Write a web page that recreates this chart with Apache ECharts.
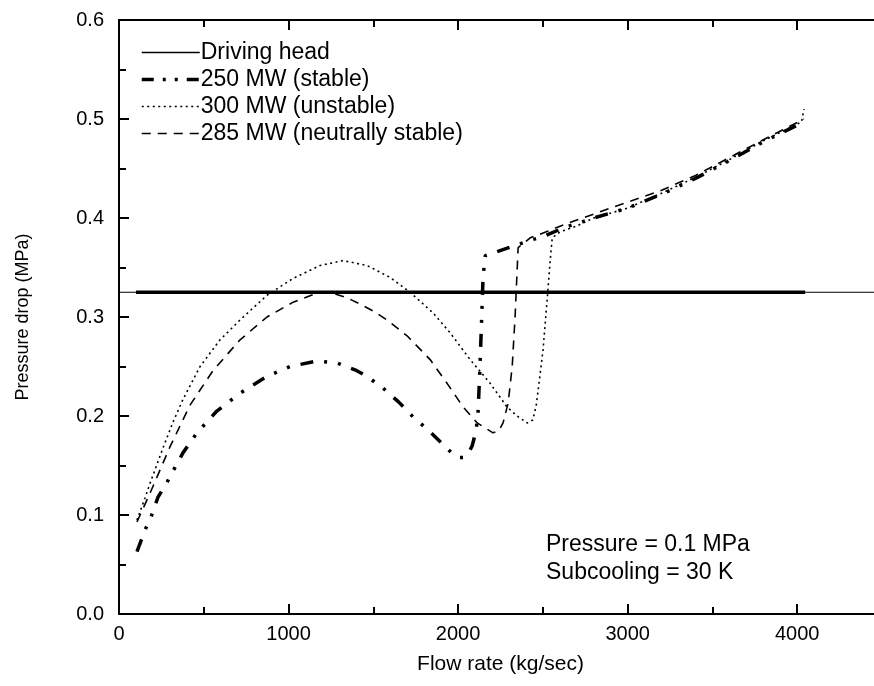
<!DOCTYPE html>
<html>
<head>
<meta charset="utf-8">
<script src="https://cdn.jsdelivr.net/npm/echarts@6/dist/echarts.min.js"></script>
<style>html,body{margin:0;padding:0;background:#fff}#c{width:874px;height:686px}</style>
</head>
<body>
<div id="c"></div>
<script>
// ---- data ----
const headLevel = 0.325;
const headThick = [100, 4047];
const headThin = [-25, 4600];

const x250 = [106, 159, 189, 230, 283, 324, 378, 460, 577, 714, 872, 1009, 1168, 1286, 1400, 1463, 1558, 1650, 1735, 1835, 1912, 1960, 2000, 2030, 2060, 2083, 2106, 2118, 2128, 2138, 2147, 2160, 2230, 2348, 2436, 2513, 2620, 2800, 3000, 3200, 3400, 3600, 3800, 4040];
const y250 = [0.063, 0.087, 0.098, 0.118, 0.133, 0.146, 0.163, 0.183, 0.205, 0.223, 0.240, 0.250, 0.2556, 0.2535, 0.246, 0.240, 0.228, 0.214, 0.199, 0.184, 0.171, 0.163, 0.158, 0.158, 0.162, 0.170, 0.185, 0.205, 0.246, 0.294, 0.340, 0.362, 0.366, 0.373, 0.378, 0.382, 0.390, 0.400, 0.410, 0.424, 0.440, 0.458, 0.477, 0.497];

const x300 = [106, 153, 183, 260, 319, 378, 478, 596, 714, 873, 1027, 1186, 1322, 1463, 1599, 1717, 1853, 1953, 2071, 2189, 2289, 2348, 2407, 2440, 2460, 2475, 2501, 2525, 2543, 2555, 2602, 2700, 2800, 3000, 3200, 3400, 3600, 3800, 4025, 4040];
const y300 = [0.095, 0.117, 0.132, 0.168, 0.194, 0.217, 0.250, 0.277, 0.297, 0.322, 0.339, 0.352, 0.357, 0.352, 0.340, 0.325, 0.304, 0.284, 0.257, 0.233, 0.209, 0.200, 0.193, 0.196, 0.210, 0.230, 0.267, 0.317, 0.357, 0.380, 0.386, 0.392, 0.400, 0.410, 0.425, 0.441, 0.459, 0.478, 0.497, 0.510];

const x285 = [106, 183, 301, 419, 555, 714, 873, 1027, 1168, 1263, 1350, 1422, 1500, 1581, 1699, 1835, 1935, 2030, 2112, 2206, 2240, 2265, 2295, 2319, 2336, 2354, 2425, 2520, 2620, 2800, 3000, 3200, 3400, 3600, 3800, 4040];
const y285 = [0.093, 0.122, 0.169, 0.211, 0.246, 0.277, 0.300, 0.315, 0.324, 0.324, 0.319, 0.313, 0.306, 0.297, 0.281, 0.257, 0.233, 0.209, 0.193, 0.183, 0.185, 0.193, 0.213, 0.250, 0.300, 0.370, 0.380, 0.386, 0.393, 0.404, 0.416, 0.428, 0.443, 0.461, 0.479, 0.500];

const xTicks = [0, 1000, 2000, 3000, 4000];
const yTicks = [0.0, 0.1, 0.2, 0.3, 0.4, 0.5, 0.6];
const seriesNames = ['Driving head', '250 MW (stable)', '300 MW (unstable)', '285 MW (neutrally stable)'];
const noteLines = ['Pressure = 0.1 MPa', 'Subcooling = 30 K'];
const xName = 'Flow rate (kg/sec)';
const yName = 'Pressure drop (MPa)';

const zip = (xs, ys) => xs.map((x, i) => [x, ys[i]]);
const FONT = 'Liberation Sans, Arial, sans-serif';

const chart = echarts.init(document.getElementById('c'), null, {renderer: 'canvas'});

const axisCommon = {
  min: xTicks[0], max: 4500, interval: 1000,
  axisLine: {show: true, onZero: false, lineStyle: {color: '#000', width: 2}},
  axisTick: {show: true, inside: true, length: 10, lineStyle: {color: '#000', width: 2}},
  minorTick: {show: true, splitNumber: 2, length: 7, lineStyle: {color: '#000', width: 2}},
  splitLine: {show: false}
};

const curveCommon = {type: 'line', symbol: 'none', itemStyle: {color: '#000'}};

const dash250 = [13, 11, 3, 11, 3, 11];
const dash300 = [2, 3.5];
const dash285 = [9, 7];

chart.setOption({
  animation: false,
  backgroundColor: '#fff',
  color: ['#000'],
  grid: {left: 119, right: -8, top: 20, bottom: 72, containLabel: false, outerBoundsMode: 'none'},
  legend: {
    data: [
      {name: seriesNames[0], lineStyle: {width: 1.6}},
      {name: seriesNames[1], lineStyle: {width: 3.5, type: [12, 9, 3, 9, 3, 9]}},
      {name: seriesNames[2], lineStyle: {width: 1.4}},
      {name: seriesNames[3], lineStyle: {width: 1.4}}
    ],
    orient: 'vertical',
    left: 140, top: 41, padding: 0,
    itemWidth: 58, itemHeight: 23, itemGap: 4,
    itemStyle: {opacity: 0},
    textStyle: {fontFamily: FONT, fontSize: 23, color: '#000', lineHeight: 23, padding: [0, 0, 0, -4]},
    inactiveColor: '#000'
  },
  xAxis: [
    Object.assign({}, axisCommon, {
      type: 'value', position: 'bottom',
      name: xName, nameLocation: 'middle', nameGap: 40,
      nameTextStyle: {fontFamily: FONT, fontSize: 21, color: '#000'},
      axisLabel: {show: true, margin: 10, fontFamily: FONT, fontSize: 20, color: '#000', showMaxLabel: false,
        formatter: v => xTicks.includes(v) ? String(v) : ''}
    }),
    Object.assign({}, axisCommon, {
      type: 'value', position: 'top', axisLabel: {show: false}
    })
  ],
  yAxis: {
    type: 'value', min: yTicks[0], max: yTicks[yTicks.length - 1], interval: 0.1,
    name: yName, nameLocation: 'middle', nameGap: 87, nameRotate: 90,
    nameTextStyle: {fontFamily: FONT, fontSize: 18, color: '#000'},
    axisLine: {show: true, onZero: false, lineStyle: {color: '#000', width: 2}},
    axisTick: {show: true, inside: true, length: 10, lineStyle: {color: '#000', width: 2}},
    minorTick: {show: true, splitNumber: 2, length: 7, lineStyle: {color: '#000', width: 2}},
    splitLine: {show: false},
    axisLabel: {margin: 15, fontFamily: FONT, fontSize: 20, color: '#000', formatter: v => v.toFixed(1)}
  },
  series: [
    {
      name: 'thin reference', type: 'line', symbol: 'none', clip: false, silent: true,
      data: [[headThin[0], headLevel], [headThin[1], headLevel]],
      itemStyle: {color: '#000'},
      lineStyle: {color: '#000', width: 1.2}
    },
    {
      name: seriesNames[0], type: 'line', symbol: 'none',
      data: [[headThick[0], headLevel], [headThick[1], headLevel]],
      itemStyle: {color: '#000'},
      lineStyle: {color: '#000', width: 3.5, type: 'solid'}
    },
    Object.assign({}, curveCommon, {
      name: seriesNames[1],
      data: zip(x250, y250),
      lineStyle: {color: '#000', width: 3.5, type: dash250, cap: 'butt'}
    }),
    Object.assign({}, curveCommon, {
      name: seriesNames[2],
      data: zip(x300, y300),
      lineStyle: {color: '#000', width: 1.6, type: dash300}
    }),
    Object.assign({}, curveCommon, {
      name: seriesNames[3],
      data: zip(x285, y285),
      lineStyle: {color: '#000', width: 1.6, type: dash285}
    })
  ],
  graphic: [
    {type: 'text', left: 546, top: 533, style: {text: noteLines[0], font: '23px ' + FONT, fill: '#000'}},
    {type: 'text', left: 546, top: 561, style: {text: noteLines[1], font: '23px ' + FONT, fill: '#000'}}
  ]
});
</script>
</body>
</html>
